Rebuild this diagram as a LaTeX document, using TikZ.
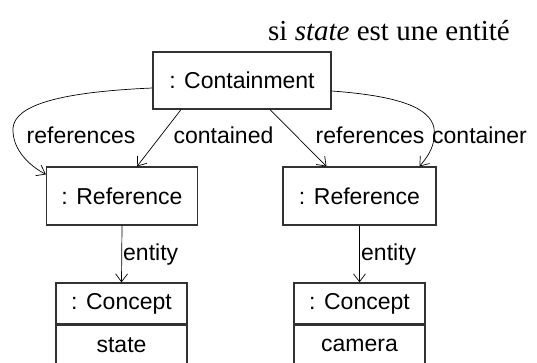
\documentclass[tikz,border=0pt]{standalone}
\usepackage{fontspec}
\setmainfont{Liberation Serif}
\setsansfont{Liberation Sans}
\usetikzlibrary{arrows.meta}
\definecolor{boxLine}{RGB}{50,50,50}

\begin{document}
\begin{tikzpicture}[x=1pt, y=-1pt,
    objbox/.style={draw=boxLine, line width=1.2pt, fill=white, inner sep=0pt,
      font=\sffamily\fontsize{23}{26}\selectfont},
    link/.style={line width=0.7pt, -{Straight Barb[length=8pt, width=12pt]}},
    role/.style={inner sep=0pt, font=\sffamily\fontsize{23}{26}\selectfont}]
  \useasboundingbox (0,0) rectangle (537,363);
  \clip (0,0) rectangle (537,363);
  \node[anchor=base west, inner sep=0pt, font=\fontsize{29}{33}\selectfont] (title) at (268,41) {si \textit{state} est une entité};
  % objects
  \node[objbox, minimum width=178pt, minimum height=57pt] (cont) at (242,80.5) {: Containment};
  \node[objbox, minimum width=151pt, minimum height=58pt] (refL) at (122,196) {: Reference};
  \node[objbox, minimum width=153pt, minimum height=58pt] (refR) at (359.5,196) {: Reference};
  \node[objbox, minimum width=131pt, minimum height=41pt] (conL) at (121.5,303.5) {: Concept};
  \node[objbox, minimum width=131pt, minimum height=40pt, anchor=north] (conLval) at (conL.south) {state};
  \node[objbox, minimum width=131pt, minimum height=41pt] (conR) at (359.5,303.5) {: Concept};
  \node[objbox, minimum width=131pt, minimum height=40pt, anchor=north] (conRval) at (conR.south) {camera};
  % links
  \draw[link] ([yshift=-7.5pt]cont.west) .. controls (60,92) and (15,105) .. (13,128)
    .. controls (12,150) and (30,166) .. ([yshift=-8pt]refL.north west);
  \draw[link] ([xshift=-61pt]cont.south) -- ([xshift=15pt]refL.north);
  \draw[link] ([xshift=28pt]cont.south) -- ([xshift=-33pt]refR.north);
  \draw[link] ([yshift=-10.5pt]cont.east) .. controls (400,96) and (430,108) .. (434,128)
    .. controls (436,146) and (428,156) .. ([xshift=60pt]refR.north);
  \draw[link] (refL.south) -- (conL.north);
  \draw[link] (refR.south) -- (conR.north);
  % roles
  \node[role, anchor=base] (roleRefL) at (81,144) {references};
  \node[role, anchor=base] (roleCont) at (223.5,144) {contained};
  \node[role, anchor=base] (roleRefR) at (370,144) {references};
  \node[role, anchor=base] (roleCtr) at (479.5,144) {container};
  \node[role, anchor=base west] (entL) at (123,260) {entity};
  \node[role, anchor=base west] (entR) at (361,260) {entity};
\end{tikzpicture}
\end{document}
